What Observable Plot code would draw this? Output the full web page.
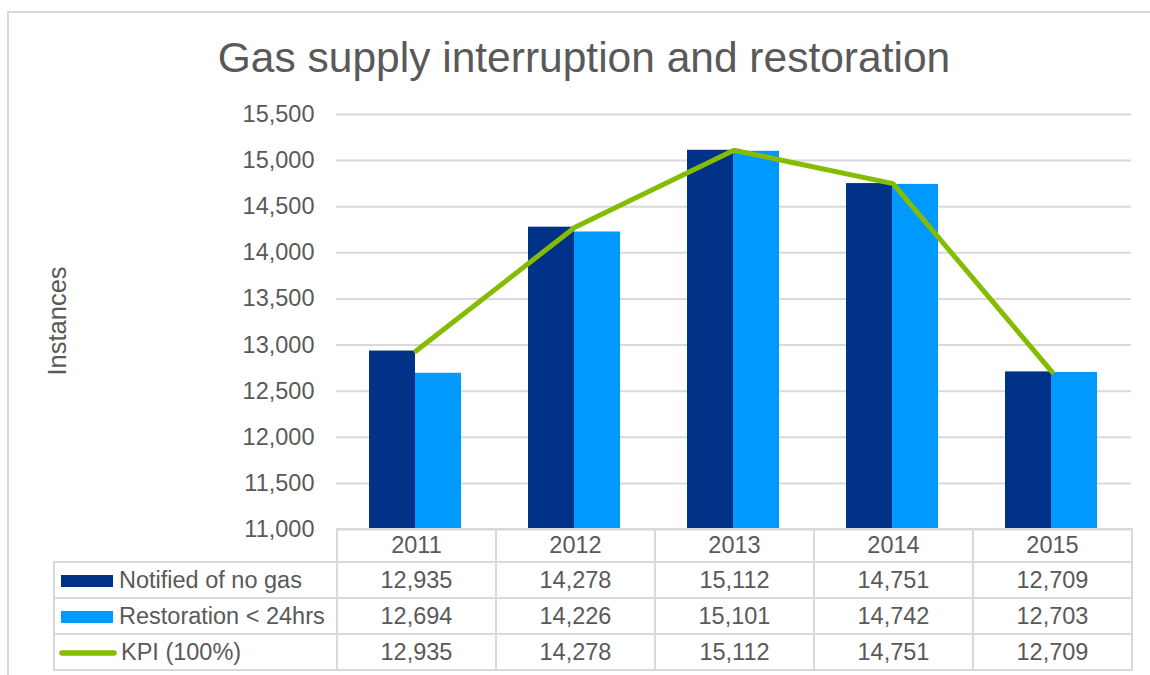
<!DOCTYPE html>
<html>
<head>
<meta charset="utf-8">
<script src="https://cdn.jsdelivr.net/npm/d3@7"></script>
<script src="https://cdn.jsdelivr.net/npm/@observablehq/plot@0.6"></script>
<style>
  html, body { margin: 0; padding: 0; background: #fff; }
  body { width: 1150px; height: 675px; overflow: hidden; position: relative; font-family: "Liberation Sans", Arial, sans-serif; color: #595959; }
  #frame { position: absolute; left: 7px; top: 11px; width: 1160px; height: 700px; border: 2px solid #d9d9d9; box-sizing: border-box; }
  #title { position: absolute; left: 0; width: 1168px; top: 36px; text-align: center; font-size: 42.5px; line-height: 43px; color: #595959; white-space: nowrap; }
  #ylabel { position: absolute; left: 57px; top: 321px; transform: translate(-50%, -50%) rotate(-90deg); font-size: 25.5px; white-space: nowrap; }
  #chart { position: absolute; left: 0; top: 100px; }
  #table { position: absolute; left: 53px; top: 528px; border-collapse: collapse; table-layout: fixed; font-size: 23.5px; color: #595959; }
  #table td { border: 2px solid #d9d9d9; text-align: center; padding: 0; white-space: nowrap; }
  #table tr.head td { height: 31px; }
  #table tr.body td { height: 34px; }
  #table td.blank { border: none; }
  #table td.name { text-align: left; }
  .sw { display: inline-block; vertical-align: middle; margin-left: 6px; margin-right: 6px; }
</style>
</head>
<body>
<div id="frame"></div>
<div id="title">Gas supply interruption and restoration</div>
<div id="ylabel">Instances</div>
<div id="chart"></div>
<table id="table"></table>
<script>
const title = "Gas supply interruption and restoration";
const yLabel = "Instances";
const years = ["2011", "2012", "2013", "2014", "2015"];
const seriesNames = ["Notified of no gas", "Restoration < 24hrs", "KPI (100%)"];
const notified = [12935, 14278, 15112, 14751, 12709];
const restoration = [12694, 14226, 15101, 14742, 12703];
const kpi = [12935, 14278, 15112, 14751, 12709];
const yTicks = [11000, 11500, 12000, 12500, 13000, 13500, 14000, 14500, 15000, 15500];

const colors = ["#003387", "#0099ff", "#86bc00"];
const fmt = d3.format(",");

document.getElementById("title").textContent = title;
document.getElementById("ylabel").textContent = yLabel;

const rows = years.map((y, i) => ({year: y, notified: notified[i], restoration: restoration[i], kpi: kpi[i]}));
const yMin = yTicks[0];

const plot = Plot.plot({
  width: 1150,
  height: 454,
  marginTop: 14,
  marginBottom: 25,
  marginLeft: 336,
  marginRight: 19,
  style: {fontFamily: "Liberation Sans, Arial, sans-serif", fontSize: "23.5px", color: "#595959", background: "transparent"},
  x: {type: "band", domain: years, padding: 0, axis: null},
  y: {domain: [yTicks[0], yTicks[yTicks.length - 1]], ticks: yTicks, tickFormat: fmt, tickSize: 0, tickPadding: 22, label: null},
  marks: [
    Plot.ruleY(yTicks, {stroke: "#d9d9d9", strokeWidth: 2}),
    Plot.barY(rows, {x: "year", y1: yMin, y2: "notified", fill: colors[0], insetLeft: 33, insetRight: 80}),
    Plot.barY(rows, {x: "year", y1: yMin, y2: "restoration", fill: colors[1], insetLeft: 79, insetRight: 34}),
    Plot.line(rows, {x: "year", y: "kpi", stroke: colors[2], strokeWidth: 5, strokeLinejoin: "miter"})
  ]
});
document.getElementById("chart").appendChild(plot);

// data table below the chart
const table = document.getElementById("table");
const colgroup = document.createElement("colgroup");
[283, 159, 159, 159, 159, 159].forEach(w => {
  const c = document.createElement("col");
  c.style.width = w + "px";
  colgroup.appendChild(c);
});
table.appendChild(colgroup);

const head = document.createElement("tr");
head.className = "head";
head.innerHTML = '<td class="blank"></td>' + years.map(y => `<td>${y}</td>`).join("");
table.appendChild(head);

const seriesValues = [notified, restoration, kpi];
seriesNames.forEach((name, s) => {
  const tr = document.createElement("tr");
  tr.className = "body";
  const swatch = s < 2
    ? `<svg class="sw" width="52" height="12"><rect width="52" height="12" fill="${colors[s]}"/></svg>`
    : `<svg class="sw" width="58" height="8" style="margin-left:4px;margin-right:4px"><line x1="3" y1="4" x2="55" y2="4" stroke="${colors[s]}" stroke-width="5.5" stroke-linecap="round"/></svg>`;
  tr.innerHTML = `<td class="name">${swatch}<span style="vertical-align:middle">${name.replace("<", "&lt;")}</span></td>` +
    seriesValues[s].map(v => `<td>${fmt(v)}</td>`).join("");
  table.appendChild(tr);
});
</script>
</body>
</html>
